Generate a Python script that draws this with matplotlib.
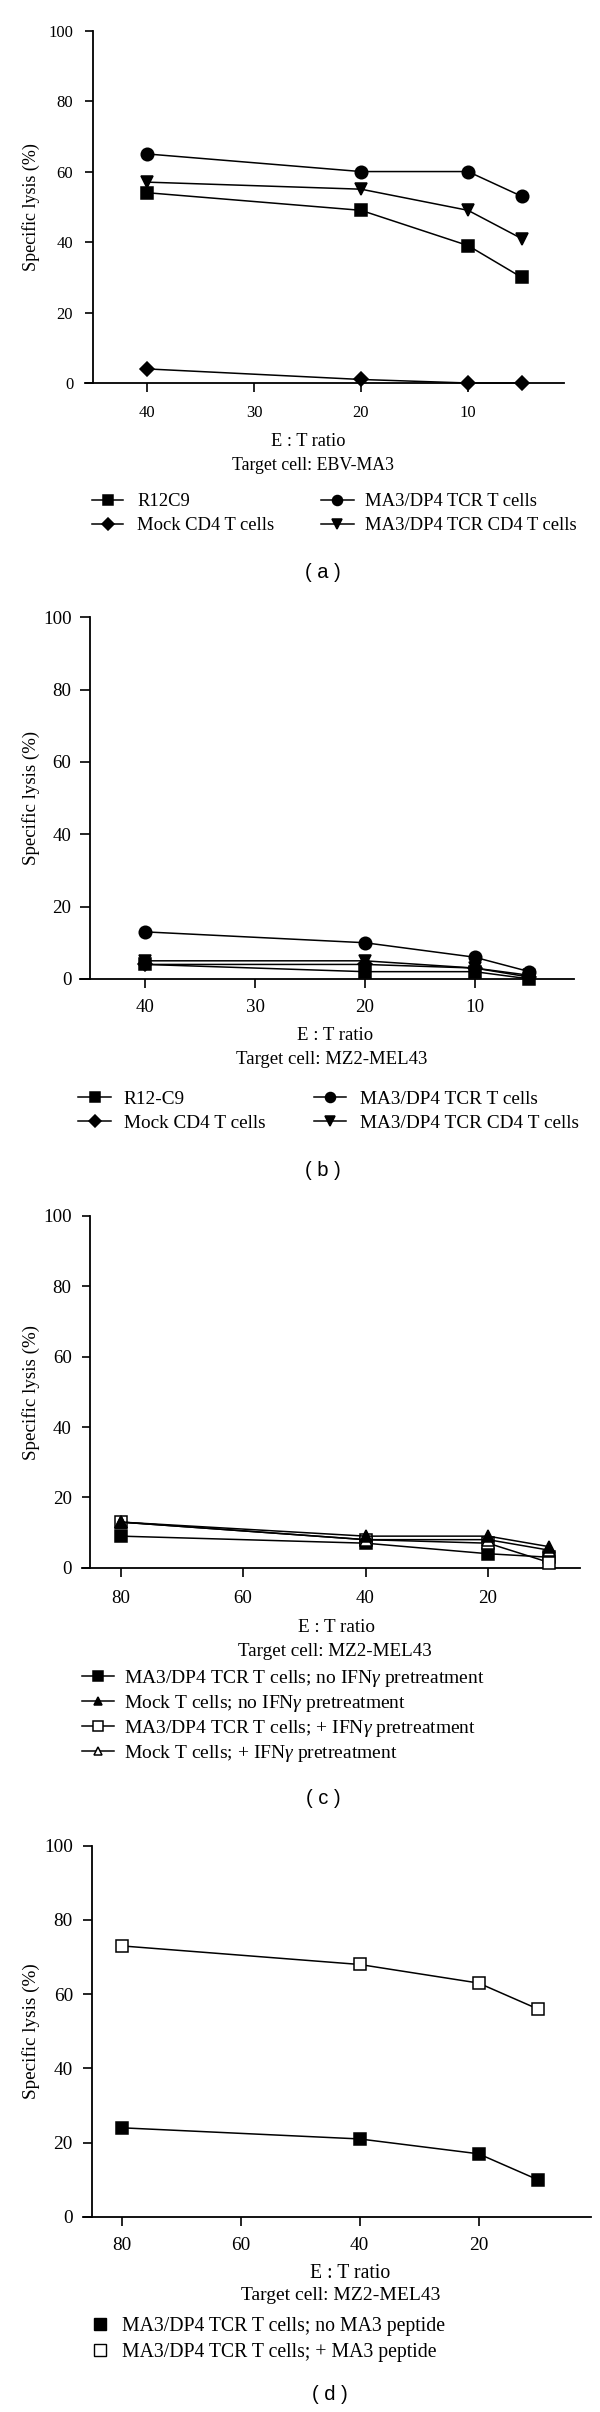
import matplotlib
matplotlib.use('Agg')
import matplotlib.pyplot as plt
from matplotlib.lines import Line2D

W, H = 600, 2412
SERIF = ['Liberation Serif', 'DejaVu Serif']
SANS = ['Liberation Sans', 'DejaVu Sans']
plt.rcParams['font.family'] = SERIF
plt.rcParams['mathtext.fontset'] = 'custom'
plt.rcParams['mathtext.rm'] = 'Liberation Serif'
plt.rcParams['mathtext.it'] = 'Liberation Serif:italic'

# ---------------- data ----------------
# Panel (a) target EBV-MA3
a_x = [40, 20, 10, 5]
a_r12c9 = [54, 49, 39, 30]
a_tcr_t = [65, 60, 60, 53]
a_mock_cd4 = [4, 1, 0, 0]
a_tcr_cd4 = [57, 55, 49, 41]
a_xticks = [40, 30, 20, 10]

# Panel (b) target MZ2-MEL43
b_x = [40, 20, 10, 5]
b_r12c9 = [4, 2, 2, 0]
b_tcr_t = [13, 10, 6, 2]
b_mock_cd4 = [4, 4, 3, 0.5]
b_tcr_cd4 = [5, 5, 3, 1]
b_xticks = [40, 30, 20, 10]

# Panel (c) IFN-gamma pretreatment
c_x = [80, 40, 20, 10]
c_tcr_noifn = [9, 7, 4, 3]
c_mock_noifn = [13, 9, 9, 6]
c_tcr_ifn = [13, 8, 7, 1.5]
c_mock_ifn = [13, 8, 8, 5]
c_xticks = [80, 60, 40, 20]

# Panel (d) MA3 peptide
d_x = [80, 40, 20, 10]
d_tcr_nopep = [24, 21, 17, 10]
d_tcr_pep = [73, 68, 63, 56]
d_xticks = [80, 60, 40, 20]

yticks = [0, 20, 40, 60, 80, 100]
ylabel = 'Specific lysis (%)'
xlabel = 'E : T ratio'

fig = plt.figure(figsize=(W / 100, H / 100), dpi=100)


def fx(x):
    return x / W


def fy(y):
    return 1 - y / H


def make_axes(left, top, right, bottom, xlim, spine_x, xticks,
              tsize, ylen, ypad, xpad):
    ax = fig.add_axes([fx(left), fy(bottom), (right - left) / W, (bottom - top) / H])
    ax.set_xlim(*xlim)
    ax.set_ylim(0, 100)
    ax.spines['top'].set_visible(False)
    ax.spines['right'].set_visible(False)
    ax.spines['left'].set_position(('data', spine_x))
    for s in ('left', 'bottom'):
        ax.spines[s].set_linewidth(1.3)
    ax.set_xticks(xticks)
    ax.set_yticks(yticks)
    ax.tick_params(axis='both', direction='out', width=1.2, labelsize=tsize)
    ax.tick_params(axis='y', length=ylen, pad=ypad)
    ax.tick_params(axis='x', length=6.7, pad=xpad)
    ax.patch.set_alpha(0)
    return ax


def series(ax, x, y, marker, ms, filled=True):
    ln, = ax.plot(x, y, color='black', lw=1.1, marker=marker, ms=ms,
                  mfc='black' if filled else 'white', mec='black', mew=1.1,
                  clip_on=False, zorder=3)
    return ln


def text(x, y, s, size=12.8, family=SERIF, **kw):
    fig.text(fx(x), fy(y), s, ha='center', va='center', fontsize=size,
             family=family, **kw)


def legend(handles, labels, x, ytop, hl, htp, spacing, fs, mscale=0.8):
    return fig.legend(handles, labels, loc='upper left',
                      bbox_to_anchor=(fx(x), fy(ytop)), frameon=False,
                      borderpad=0, borderaxespad=0, handlelength=hl,
                      handletextpad=htp, labelspacing=spacing,
                      prop={'family': SERIF, 'size': fs}, markerscale=mscale)


# ---------------- panel (a) ----------------
ax = make_axes(85, 30.6, 564, 383, (45.79, 1.03), 45.05, a_xticks,
               12.0, 5.8, 8.4, 9)
h1 = series(ax, a_x, a_r12c9, 's', 9)
h2 = series(ax, a_x, a_mock_cd4, 'D', 7.5)
h3 = series(ax, a_x, a_tcr_t, 'o', 9)
h4 = series(ax, a_x, a_tcr_cd4, 'v', 9)
text(31, 207, ylabel, size=13.0, rotation=90)
text(308, 442, xlabel, size=13.2)
text(313, 465, 'Target cell: EBV-MA3', size=12.8)
legend([h1, h2], ['R12C9', 'Mock CD4 T cells'], 92, 493.4, 1.67, 0.75, 0.37, 13.4)
legend([h3, h4], ['MA3/DP4 TCR T cells', 'MA3/DP4 TCR CD4 T cells'],
       321, 493.4, 1.77, 0.62, 0.37, 13.4)
text(323, 572, '( a )', size=14.5, family=SANS)

# ---------------- panel (b) ----------------
ax = make_axes(80.4, 617.2, 574, 978.9, (45.92, 0.94), 45.05, b_xticks,
               13.6, 6.9, 6.3, 8)
h1 = series(ax, b_x, b_r12c9, 's', 9)
h2 = series(ax, b_x, b_mock_cd4, 'D', 7.5)
h4 = series(ax, b_x, b_tcr_cd4, 'v', 9)
h3 = series(ax, b_x, b_tcr_t, 'o', 9)
text(31, 798, ylabel, size=13.6, rotation=90)
text(335, 1035, xlabel, size=13.5)
text(332, 1059, 'Target cell: MZ2-MEL43', size=13.5)
legend([h1, h2], ['R12-C9', 'Mock CD4 T cells'], 78, 1090, 1.71, 0.67, 0.35, 13.9)
legend([h3, h4], ['MA3/DP4 TCR T cells', 'MA3/DP4 TCR CD4 T cells'],
       314, 1090, 1.66, 0.73, 0.35, 13.9)
text(323, 1170, '( b )', size=14.5, family=SANS)

# ---------------- panel (c) ----------------
ax = make_axes(81.5, 1216, 580, 1567.8, (86.37, 4.98), 84.98, c_xticks,
               13.6, 6.1, 7.1, 9)
h1 = series(ax, c_x, c_tcr_noifn, 's', 9)
h3 = series(ax, c_x, c_tcr_ifn, 's', 9, filled=False)
h4 = series(ax, c_x, c_mock_ifn, '^', 8.5, filled=False)
h2 = series(ax, c_x, c_mock_noifn, '^', 8.5)
text(31, 1392, ylabel, size=13.7, rotation=90)
text(337, 1627, xlabel, size=13.8)
text(335, 1652, 'Target cell: MZ2-MEL43', size=13.7)
legend([h1, h2, h3, h4],
       ['MA3/DP4 TCR T cells; no IFN$\\mathit{\\gamma}$ pretreatment',
        'Mock T cells; no IFN$\\mathit{\\gamma}$ pretreatment',
        'MA3/DP4 TCR T cells; + IFN$\\mathit{\\gamma}$ pretreatment',
        'Mock T cells; + IFN$\\mathit{\\gamma}$ pretreatment'],
       81.5, 1668, 1.66, 0.53, 0.2, 14.0, mscale=0.75)
text(323, 1798, '( c )', size=14.5, family=SANS)

# ---------------- panel (d) ----------------
ax = make_axes(83, 1845.7, 591, 2216.9, (86.56, 1.07), 85.1, d_xticks,
               13.9, 6.3, 7.2, 8)
series(ax, d_x, d_tcr_pep, 's', 9, filled=False)
series(ax, d_x, d_tcr_nopep, 's', 9)
text(31, 2031, ylabel, size=13.8, rotation=90)
text(350, 2274, xlabel, size=14.2)
text(341, 2296, 'Target cell: MZ2-MEL43', size=14.0)
lh1 = Line2D([], [], ls='none', marker='s', ms=9, mfc='black', mec='black')
lh2 = Line2D([], [], ls='none', marker='s', ms=9, mfc='white', mec='black')
legend([lh1, lh2], ['MA3/DP4 TCR T cells; no MA3 peptide',
                    'MA3/DP4 TCR T cells; + MA3 peptide'],
       90, 2317, 1.0, 0.62, 0.35, 14.2, mscale=1.0)
text(330, 2395, '( d )', size=14.5, family=SANS)

fig.savefig('out.png', dpi=100)
